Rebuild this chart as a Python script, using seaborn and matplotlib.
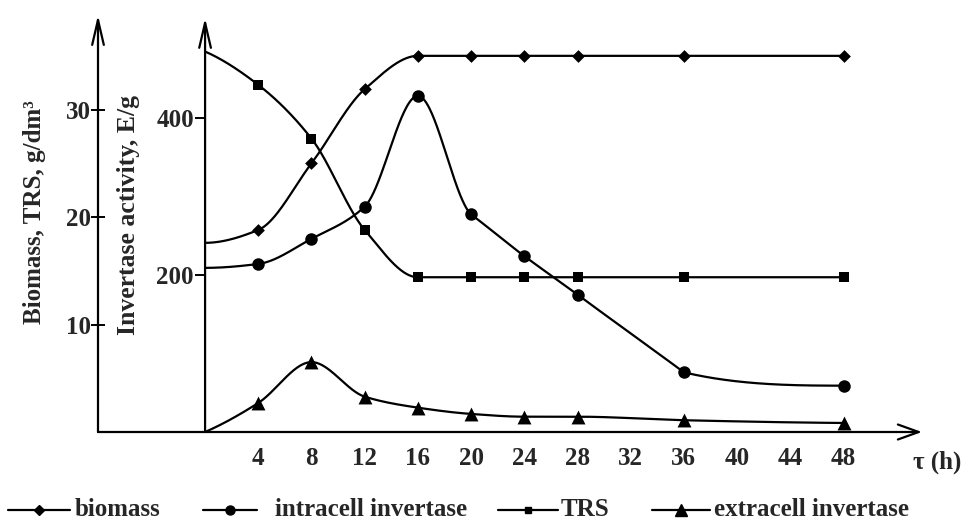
import numpy as np
import pandas as pd
import matplotlib
matplotlib.use("Agg")
import matplotlib.pyplot as plt
import matplotlib.transforms as mtransforms
from matplotlib.lines import Line2D
import seaborn as sns

# ---------------- data ----------------
time_h = [0, 4, 8, 12, 16, 20, 24, 28, 36, 48]
biomass = [17.6, 18.8, 25.0, 31.9, 35.0, 35.0, 35.0, 35.0, 35.0, 35.0]      # g/dm3
trs = [35.4, 32.3, 27.3, 18.8, 14.4, 14.4, 14.4, 14.4, 14.4, 14.4]          # g/dm3
intracell = [209, 214, 246, 287, 428, 277, 224, 175, 76, 59]                # E/g
extracell = [0, 37, 89, 45, 31, 23, 19.5, 19.5, 15, 11.5]                   # E/g

x_ticks = [4, 8, 12, 16, 20, 24, 28, 32, 36, 40, 44, 48]
left_ticks = [10, 20, 30]
right_ticks = [200, 400]

series_names = ["biomass", "intracell invertase", "TRS", "extracell invertase"]

# ---------------- style ----------------
sns.set_theme(style="white")
plt.rcParams["font.family"] = ["Liberation Serif", "DejaVu Serif"]
plt.rcParams["font.weight"] = "bold"
plt.rcParams["axes.labelweight"] = "bold"


def pchip(x, y, xs, slopes=None):
    """Monotone cubic Hermite curve through the points (drawing aid only).
    slopes: {index: (left_slope, right_slope)} to force corners / straight runs."""
    x = np.asarray(x, float)
    y = np.asarray(y, float)
    h = np.diff(x)
    delta = np.diff(y) / h
    n = len(x)
    d = np.zeros(n)
    for k in range(1, n - 1):
        if delta[k - 1] * delta[k] > 0:
            w1 = 2 * h[k] + h[k - 1]
            w2 = h[k] + 2 * h[k - 1]
            d[k] = (w1 + w2) / (w1 / delta[k - 1] + w2 / delta[k])

    def end(h0, h1, d0, d1):
        v = ((2 * h0 + h1) * d0 - h0 * d1) / (h0 + h1)
        if np.sign(v) != np.sign(d0):
            v = 0.0
        elif np.sign(d0) != np.sign(d1) and abs(v) > abs(3 * d0):
            v = 3 * d0
        return v

    d[0] = end(h[0], h[1], delta[0], delta[1])
    d[-1] = end(h[-1], h[-2], delta[-1], delta[-2])
    dl = d.copy()
    dr = d.copy()
    if slopes:
        for k, (a, b) in slopes.items():
            dl[k] = a
            dr[k] = b
    idx = np.clip(np.searchsorted(x, xs) - 1, 0, n - 2)
    t = (xs - x[idx]) / h[idx]
    h00 = 2 * t**3 - 3 * t**2 + 1
    h10 = t**3 - 2 * t**2 + t
    h01 = -2 * t**3 + 3 * t**2
    h11 = t**3 - t**2
    return (h00 * y[idx] + h10 * h[idx] * dr[idx]
            + h01 * y[idx + 1] + h11 * h[idx] * dl[idx + 1])


fig = plt.figure(figsize=(9.66, 5.31), dpi=100)
ax = fig.add_axes([98 / 966, (531 - 432) / 531, (922 - 98) / 966, (432 - 15) / 531])
ax2 = ax.twinx()
ax.set_xlim(-8.05, 53.9)
ax.set_ylim(0, 38.8)
ax2.set_ylim(0, 531)

ts = np.linspace(0, 48, 800)
lw = 1.6


def draw(axis, values, marker, ms, slopes=None):
    curve = pd.DataFrame({"t": ts, "v": pchip(time_h, values, ts, slopes)})
    sns.lineplot(data=curve, x="t", y="v", ax=axis, color="black", lw=lw,
                 estimator=None, sort=False)
    pts = pd.DataFrame({"t": time_h[1:], "v": values[1:]})
    sns.scatterplot(data=pts, x="t", y="v", ax=axis, color="black", marker=marker,
                    s=ms**2, linewidth=0, zorder=5)


# straight stretch of the intracellular curve between 20 h and 36 h
lin = (intracell[8] - intracell[5]) / (time_h[8] - time_h[5])
draw(ax, biomass, "D", 6.5)
draw(ax, trs, "s", 6.5)
draw(ax2, intracell, "o", 9,
     slopes={5: (-16.0, lin), 6: (lin, lin), 7: (lin, lin), 8: (lin, -4.0), 9: (0.0, 0.0)})
draw(ax2, extracell, "^", 10)

for a in (ax, ax2):
    a.set_xlabel("")
    a.set_ylabel("")
    for s in a.spines.values():
        s.set_visible(False)
    a.grid(False)

# ticks
fs = 18
ax.set_xticks(x_ticks)
ax.set_xticklabels([str(v) for v in x_ticks], fontsize=fs, fontweight="bold")
ax.tick_params(axis="x", length=0, pad=11)
ax.set_yticks(left_ticks)
ax.set_yticklabels([str(v) for v in left_ticks], fontsize=fs, fontweight="bold")
ax.tick_params(axis="y", direction="inout", length=10, width=1.4, pad=0, color="black", left=True)

ax2.spines["left"].set_position(("data", 0))
ax2.yaxis.tick_left()
ax2.set_yticks(right_ticks)
ax2.set_yticklabels([str(v) for v in right_ticks], fontsize=fs, fontweight="bold")
ax2.tick_params(axis="y", direction="out", length=7, width=1.4, pad=1, color="black", left=True, right=False)

# axis arrows
arrow_v = dict(arrowstyle="->,head_length=1.2,head_width=0.28", lw=1.6, color="black",
               shrinkA=0, shrinkB=0, mutation_scale=15)
arrow_h = dict(arrowstyle="->,head_length=1.0,head_width=0.36", lw=1.6, color="black",
               shrinkA=0, shrinkB=0, mutation_scale=15)
ax.annotate("", xy=(0, 1.0), xytext=(0, 0), xycoords="axes fraction",
            arrowprops=arrow_v, annotation_clip=False)
blend = mtransforms.blended_transform_factory(ax.transData, ax.transAxes)
ax.annotate("", xy=(0, 0.993), xytext=(0, 0), xycoords=blend, textcoords=blend,
            arrowprops=arrow_v, annotation_clip=False)
ax.annotate("", xy=(1.0, 0), xytext=(0, 0), xycoords="axes fraction",
            arrowprops=arrow_h, annotation_clip=False)

# axis labels
fig.text(35 / 966, 1 - 212 / 531, "Biomass, TRS, g/dm³", rotation=90, ha="center",
         va="center", fontsize=18, fontweight="bold")
fig.text(129 / 966, 1 - 215 / 531, "Invertase activity, E/g", rotation=90, ha="center",
         va="center", fontsize=18.5, fontweight="bold")
fig.text(937 / 966, 1 - 462 / 531, "τ (h)", ha="center", va="center", fontsize=fs,
         fontweight="bold")

# legend (placed item by item, as in the reference)
markers = ["D", "o", "s", "^"]
msizes = [5, 6.5, 5, 8]
handle_x = [(8, 70), (203, 257), (498, 558), (652, 710)]
text_x = [75, 275, 561, 714]
ly = 1 - 510 / 531
for (x0, x1), tx, m, ms, name in zip(handle_x, text_x, markers, msizes, series_names):
    xm = (x0 + x1) / 2
    fig.add_artist(Line2D([x0 / 966, xm / 966, x1 / 966], [ly, ly, ly], color="black",
                          lw=1.6, marker=m, markersize=ms, markevery=[1],
                          transform=fig.transFigure))
    fig.text(tx / 966, ly, name, ha="left", va="center", fontsize=18, fontweight="bold")

fig.savefig("out.png", dpi=100, facecolor="white")
